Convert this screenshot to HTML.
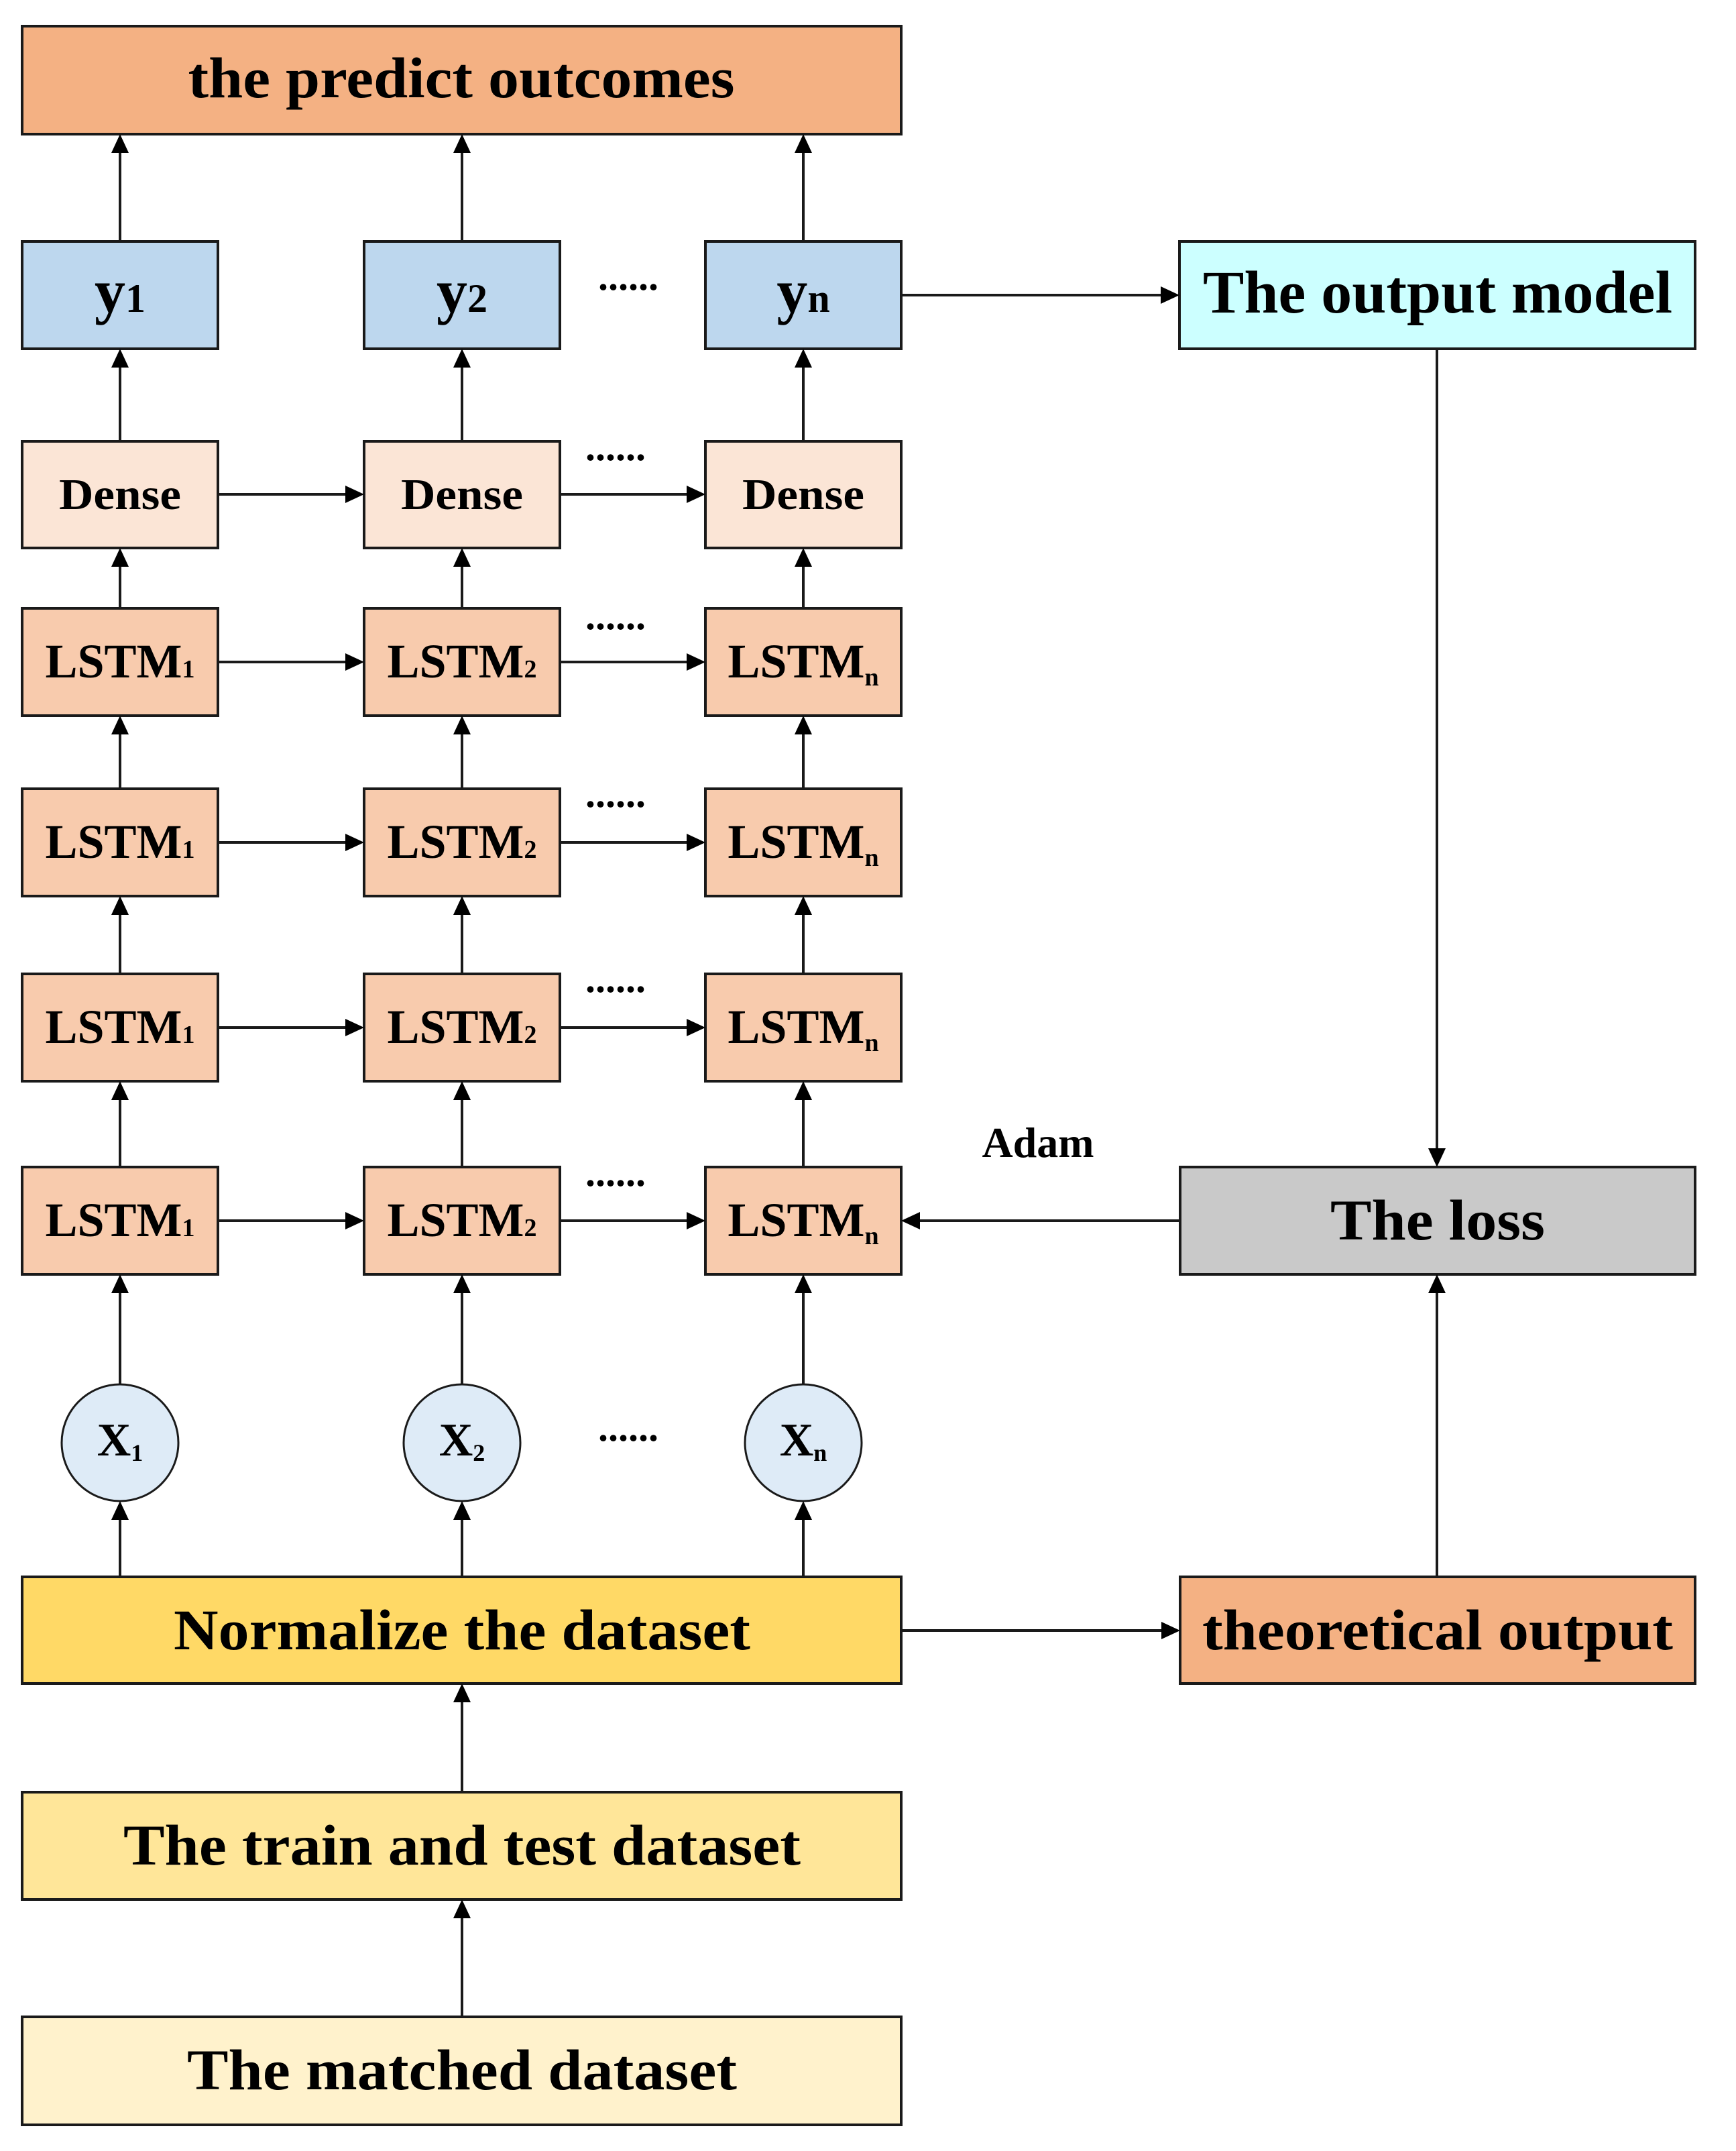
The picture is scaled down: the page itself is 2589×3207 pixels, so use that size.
<!DOCTYPE html>
<html><head><meta charset="utf-8"><style>html,body{margin:0;padding:0;background:#fff}svg{display:block}</style></head>
<body>
<svg width="2589" height="3207" viewBox="0 0 2589 3207" xmlns="http://www.w3.org/2000/svg" font-family="Liberation Serif, serif" font-weight="bold">
<g stroke="#1a1a1a" stroke-width="4">
<rect x="33" y="39" width="1311" height="161" fill="#F4B183"/>
<rect x="33" y="360" width="292" height="160" fill="#BDD7EE"/>
<rect x="543" y="360" width="292" height="160" fill="#BDD7EE"/>
<rect x="1052" y="360" width="292" height="160" fill="#BDD7EE"/>
<rect x="1759" y="360" width="769" height="160" fill="#CCFFFF"/>
<rect x="33" y="658" width="292" height="159" fill="#FBE5D6"/>
<rect x="543" y="658" width="292" height="159" fill="#FBE5D6"/>
<rect x="1052" y="658" width="292" height="159" fill="#FBE5D6"/>
<g fill="#F8CBAD">
<rect x="33" y="907" width="292" height="160"/><rect x="543" y="907" width="292" height="160"/><rect x="1052" y="907" width="292" height="160"/>
<rect x="33" y="1176" width="292" height="160"/><rect x="543" y="1176" width="292" height="160"/><rect x="1052" y="1176" width="292" height="160"/>
<rect x="33" y="1452" width="292" height="160"/><rect x="543" y="1452" width="292" height="160"/><rect x="1052" y="1452" width="292" height="160"/>
<rect x="33" y="1740" width="292" height="160"/><rect x="543" y="1740" width="292" height="160"/><rect x="1052" y="1740" width="292" height="160"/>
</g>
<rect x="1760" y="1740" width="768" height="160" fill="#C9C9C9"/>
<g fill="#DEEBF7" stroke-width="3">
<circle cx="179" cy="2151" r="87"/><circle cx="689" cy="2151" r="87"/><circle cx="1198" cy="2151" r="87"/>
</g>
<rect x="33" y="2351" width="1311" height="159" fill="#FFD966"/>
<rect x="1760" y="2351" width="768" height="159" fill="#F4B183"/>
<rect x="33" y="2672" width="1311" height="160" fill="#FFE699"/>
<rect x="33" y="3007" width="1311" height="161" fill="#FFF2CC"/>
</g>

<g stroke="#1a1a1a" stroke-width="4" fill="none">
<path d="M179 360V226M689 360V226M1198 360V226"/>
<path d="M179 658V546M689 658V546M1198 658V546"/>
<path d="M179 907V843M689 907V843M1198 907V843"/>
<path d="M179 1176V1093M689 1176V1093M1198 1176V1093"/>
<path d="M179 1452V1362M689 1452V1362M1198 1452V1362"/>
<path d="M179 1740V1638M689 1740V1638M1198 1740V1638"/>
<path d="M179 2064V1926M689 2064V1926M1198 2064V1926"/>
<path d="M179 2351V2264M689 2351V2264M1198 2351V2264"/>
<path d="M689 2672V2536M689 3007V2858"/>
<path d="M2143 2351V1926M2143 520V1714"/>
<path d="M325 737H517M835 737H1026M325 987H517M835 987H1026M325 1256H517M835 1256H1026M325 1532H517M835 1532H1026M325 1820H517M835 1820H1026"/>
<path d="M1344 440H1733M1344 2431H1734M1760 1820H1370"/>
</g>
<g fill="#000">
<path d="M179 200l-13 28h26zM689 200l-13 28h26zM1198 200l-13 28h26z"/>
<path d="M179 520l-13 28h26zM689 520l-13 28h26zM1198 520l-13 28h26z"/>
<path d="M179 817l-13 28h26zM689 817l-13 28h26zM1198 817l-13 28h26z"/>
<path d="M179 1067l-13 28h26zM689 1067l-13 28h26zM1198 1067l-13 28h26z"/>
<path d="M179 1336l-13 28h26zM689 1336l-13 28h26zM1198 1336l-13 28h26z"/>
<path d="M179 1612l-13 28h26zM689 1612l-13 28h26zM1198 1612l-13 28h26z"/>
<path d="M179 1900l-13 28h26zM689 1900l-13 28h26zM1198 1900l-13 28h26z"/>
<path d="M179 2238l-13 28h26zM689 2238l-13 28h26zM1198 2238l-13 28h26z"/>
<path d="M689 2510l-13 28h26zM689 2832l-13 28h26zM2143 1900l-13 28h26z"/>
<path d="M2143 1740l-13 -28h26z"/>
<path d="M543 737l-28 -13v26zM1052 737l-28 -13v26zM543 987l-28 -13v26zM1052 987l-28 -13v26zM543 1256l-28 -13v26zM1052 1256l-28 -13v26zM543 1532l-28 -13v26zM1052 1532l-28 -13v26zM543 1820l-28 -13v26zM1052 1820l-28 -13v26z"/>
<path d="M1759 440l-28 -13v26zM1760 2431l-28 -13v26z"/>
<path d="M1344 1820l28 -13v26z"/>
</g>

<g fill="#000" text-anchor="middle">
<text x="688" y="145" font-size="86" textLength="815" lengthAdjust="spacingAndGlyphs">the predict outcomes</text>
<text x="179" y="465" font-size="92">y<tspan font-size="60">1</tspan></text>
<text x="689" y="465" font-size="92">y<tspan font-size="60">2</tspan></text>
<text x="1198" y="465" font-size="92">y<tspan font-size="60">n</tspan></text>
<text x="2144" y="466" font-size="90" textLength="700" lengthAdjust="spacingAndGlyphs">The output model</text>
<text x="179" y="759" font-size="66" textLength="182" lengthAdjust="spacingAndGlyphs">Dense</text>
<text x="689" y="759" font-size="66" textLength="182" lengthAdjust="spacingAndGlyphs">Dense</text>
<text x="1198" y="759" font-size="66" textLength="182" lengthAdjust="spacingAndGlyphs">Dense</text>
<g font-size="72">
<text x="179" y="1010">LSTM<tspan font-size="38">1</tspan></text>
<text x="689" y="1010">LSTM<tspan font-size="38">2</tspan></text>
<text x="1198" y="1010">LSTM<tspan font-size="38" dy="12">n</tspan></text>
<text x="179" y="1279">LSTM<tspan font-size="38">1</tspan></text>
<text x="689" y="1279">LSTM<tspan font-size="38">2</tspan></text>
<text x="1198" y="1279">LSTM<tspan font-size="38" dy="12">n</tspan></text>
<text x="179" y="1555">LSTM<tspan font-size="38">1</tspan></text>
<text x="689" y="1555">LSTM<tspan font-size="38">2</tspan></text>
<text x="1198" y="1555">LSTM<tspan font-size="38" dy="12">n</tspan></text>
<text x="179" y="1843">LSTM<tspan font-size="38">1</tspan></text>
<text x="689" y="1843">LSTM<tspan font-size="38">2</tspan></text>
<text x="1198" y="1843">LSTM<tspan font-size="38" dy="12">n</tspan></text>
</g>
<text x="2144" y="1848" font-size="86" textLength="320" lengthAdjust="spacingAndGlyphs">The loss</text>
<text x="1548" y="1725" font-size="64">Adam</text>
<text x="179" y="2170" font-size="70">X<tspan font-size="36" dy="8">1</tspan></text>
<text x="689" y="2170" font-size="70">X<tspan font-size="36" dy="8">2</tspan></text>
<text x="1198" y="2170" font-size="70">X<tspan font-size="36" dy="8">n</tspan></text>
<text x="689" y="2459" font-size="86" textLength="860" lengthAdjust="spacingAndGlyphs">Normalize the dataset</text>
<text x="2144" y="2459" font-size="86" textLength="702" lengthAdjust="spacingAndGlyphs">theoretical output</text>
<text x="689" y="2780" font-size="86" textLength="1010" lengthAdjust="spacingAndGlyphs">The train and test dataset</text>
<text x="689" y="3115" font-size="86" textLength="820" lengthAdjust="spacingAndGlyphs">The matched dataset</text>
</g>
<g fill="#000" font-size="60" text-anchor="middle">
<text x="937" y="432">......</text>
<text x="918" y="686">......</text>
<text x="918" y="938">......</text>
<text x="918" y="1203">......</text>
<text x="918" y="1479">......</text>
<text x="918" y="1768">......</text>
<text x="937" y="2148">......</text>
</g>
</svg>
</body></html>
